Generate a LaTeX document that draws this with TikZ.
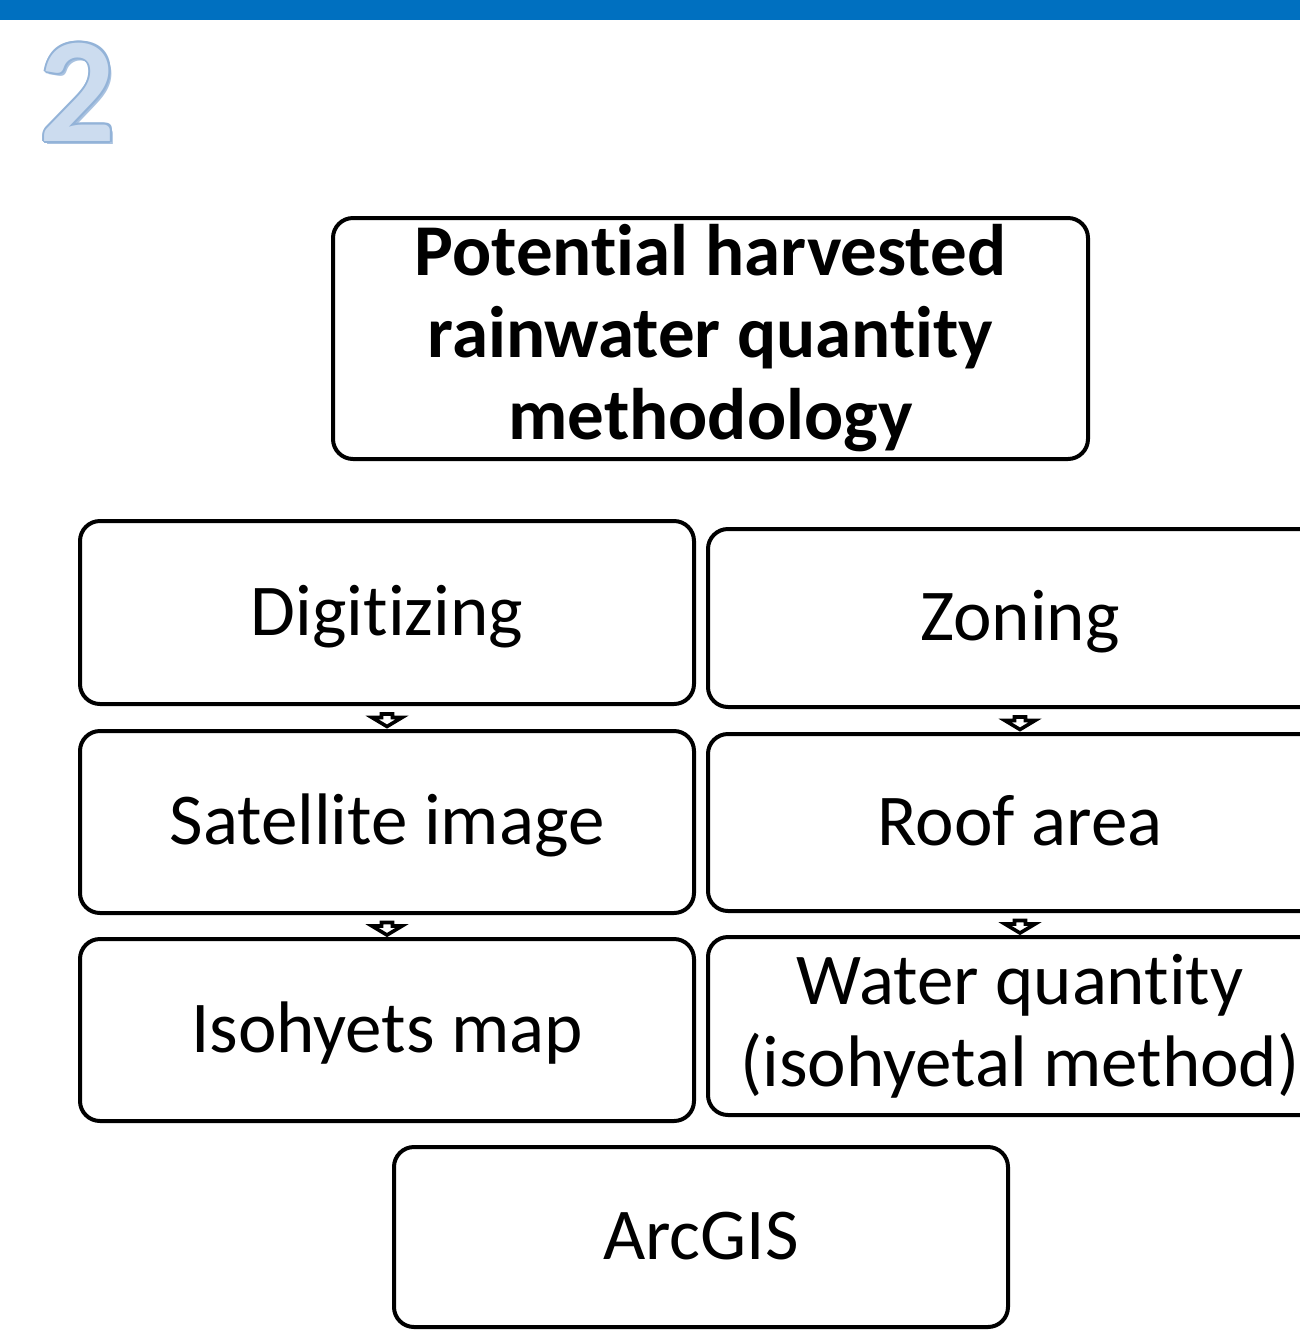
\documentclass[tikz,border=0pt]{standalone}
\usepackage{fontspec}
\setmainfont{Carlito}[Ligatures={NoCommon}]
\usetikzlibrary{calc}
\definecolor{barblue}{HTML}{0070C0}
\definecolor{twofill}{HTML}{CCDCEF}
\definecolor{twoline}{HTML}{93B3D8}
\definecolor{twoshadow}{HTML}{A9C2E0}
\begin{document}
\begin{tikzpicture}[x=0.5pt,y=-0.5pt,
  box/.style={draw, line width=2pt, rounded corners=10pt, inner sep=0pt, align=center,
    font=\fontsize{36.5}{41}\selectfont},
  oneline/.style={text height=31.8pt, text depth=9.1pt},
  barrow/.style={draw, line width=1.8pt, fill=white, line join=miter},
  twotext/.style={font=\fontsize{75}{75}\selectfont\bfseries, anchor=base, inner sep=0pt}]
\useasboundingbox (0,0) rectangle (1300,1330);
\clip (0,0) rectangle (1300,1330);
\fill[barblue] (0,0) rectangle (1300,20);
% the "2"
\node[twotext, text=twoshadow] (twos) at (81,144) {2};
\foreach \dx/\dy in {-2/0,2/0,0/-2,0/2,-1.5/-1.5,1.5/1.5,-1.5/1.5,1.5/-1.5}
  \node[twotext, text=twoline] at ($(78,141)+(\dx,\dy)$) {2};
\node[twotext, text=twofill] (two) at (78,141) {2};
% boxes
\node[box, minimum width=377.5pt, minimum height=120.5pt, font=\fontsize{36.5}{41}\selectfont\bfseries]
  (title) at (710.5,338.5) {Potential harvested\\rainwater quantity\\methodology};
\node[box, oneline, minimum width=307pt, minimum height=91.5pt] (dig) at (387,612.5) {Digitizing};
\node[box, oneline, minimum width=307pt, minimum height=91pt] (sat) at (387,822) {Satellite image};
\node[box, oneline, minimum width=307pt, minimum height=91pt] (iso) at (387,1030) {Isohyets map};
\node[box, oneline, minimum width=312pt, minimum height=89pt] (zon) at (1020,618) {Zoning};
\node[box, oneline, minimum width=312pt, minimum height=88.5pt] (roof) at (1020,822.5) {Roof area};
\node[box, minimum width=312pt, minimum height=89pt] (wat) at (1020,1026) {Water quantity\\(isohyetal method)};
\node[box, oneline, minimum width=307pt, minimum height=90pt] (arc) at (701,1237) {ArcGIS};
% small block arrows
\foreach \a/\b/\n in {dig/sat/m1, sat/iso/m2, zon/roof/m3, roof/wat/m4}{
  \coordinate (\n) at ($(\a.south)!0.5!(\b.north)$);
  \draw[barrow] ($(\n)+(-5.5,-3.5)$) -- ($(\n)+(5.5,-3.5)$) -- ($(\n)+(5.5,0)$) -- ($(\n)+(15,0)$)
    -- ($(\n)+(0,9)$) -- ($(\n)+(-15,0)$) -- ($(\n)+(-5.5,0)$) -- cycle;
}
\end{tikzpicture}
\end{document}
